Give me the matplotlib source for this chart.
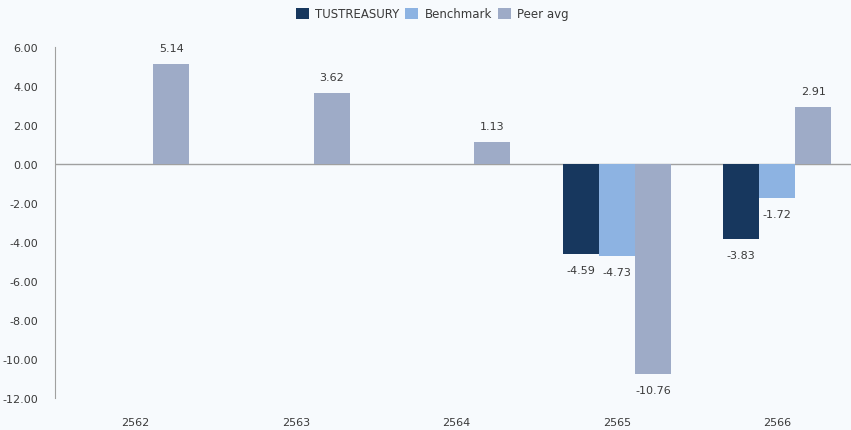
import numpy as np
import matplotlib.pyplot as plt

# data
years = ['2562', '2563', '2564', '2565', '2566']
tustreasury = [np.nan, np.nan, np.nan, -4.59, -3.83]
benchmark = [np.nan, np.nan, np.nan, -4.73, -1.72]
peer_avg = [5.14, 3.62, 1.13, -10.76, 2.91]

series = [('TUSTREASURY', tustreasury, '#17375e'),
          ('Benchmark', benchmark, '#8db3e2'),
          ('Peer avg', peer_avg, '#9eabc7')]

bg = '#f7fafd'
fig = plt.figure(figsize=(8.51, 4.31), dpi=100, facecolor=bg)
ax = fig.add_axes([0.0646, 0.0742, 0.943, 0.8144], facecolor=bg)

x = np.arange(len(years))
w = 0.225
for i, (name, vals, col) in enumerate(series):
    pos = x + (i - 1) * w
    ax.bar(pos, vals, width=w, color=col, label=name, zorder=2)
    for p, v in zip(pos, vals):
        if np.isnan(v):
            continue
        off = 8 if v >= 0 else -8
        ax.annotate(f'{v:.2f}', (p, v), xytext=(0, off), textcoords='offset points',
                    ha='center', va='bottom' if v >= 0 else 'top',
                    fontsize=8, color='#3a3a3a')

ax.set_xlim(-0.5, len(years) - 0.5)
ax.set_ylim(-12, 6)
ax.set_yticks(np.arange(-12, 6.1, 2))
ax.set_yticklabels([f'{t:.2f}' for t in np.arange(-12, 6.1, 2)])
ax.set_xticks(x)
ax.set_xticklabels(years)
ax.tick_params(axis='both', length=0, labelsize=8, colors='#3a3a3a')
ax.tick_params(axis='x', pad=14)
ax.tick_params(axis='y', pad=12)
for s in ['top', 'right', 'bottom']:
    ax.spines[s].set_visible(False)
ax.spines['left'].set_color('#a0a0a0')
ax.axhline(0, color='#a0a0a0', lw=1, zorder=1)

fig.legend(loc='upper center', bbox_to_anchor=(0.508, 1.005), ncol=3, frameon=False,
           fontsize=8.5, handlelength=1.1, handleheight=1.1, handletextpad=0.5,
           columnspacing=0.5, labelcolor='#3a3a3a')

fig.savefig('out.png', dpi=100, facecolor=bg)
